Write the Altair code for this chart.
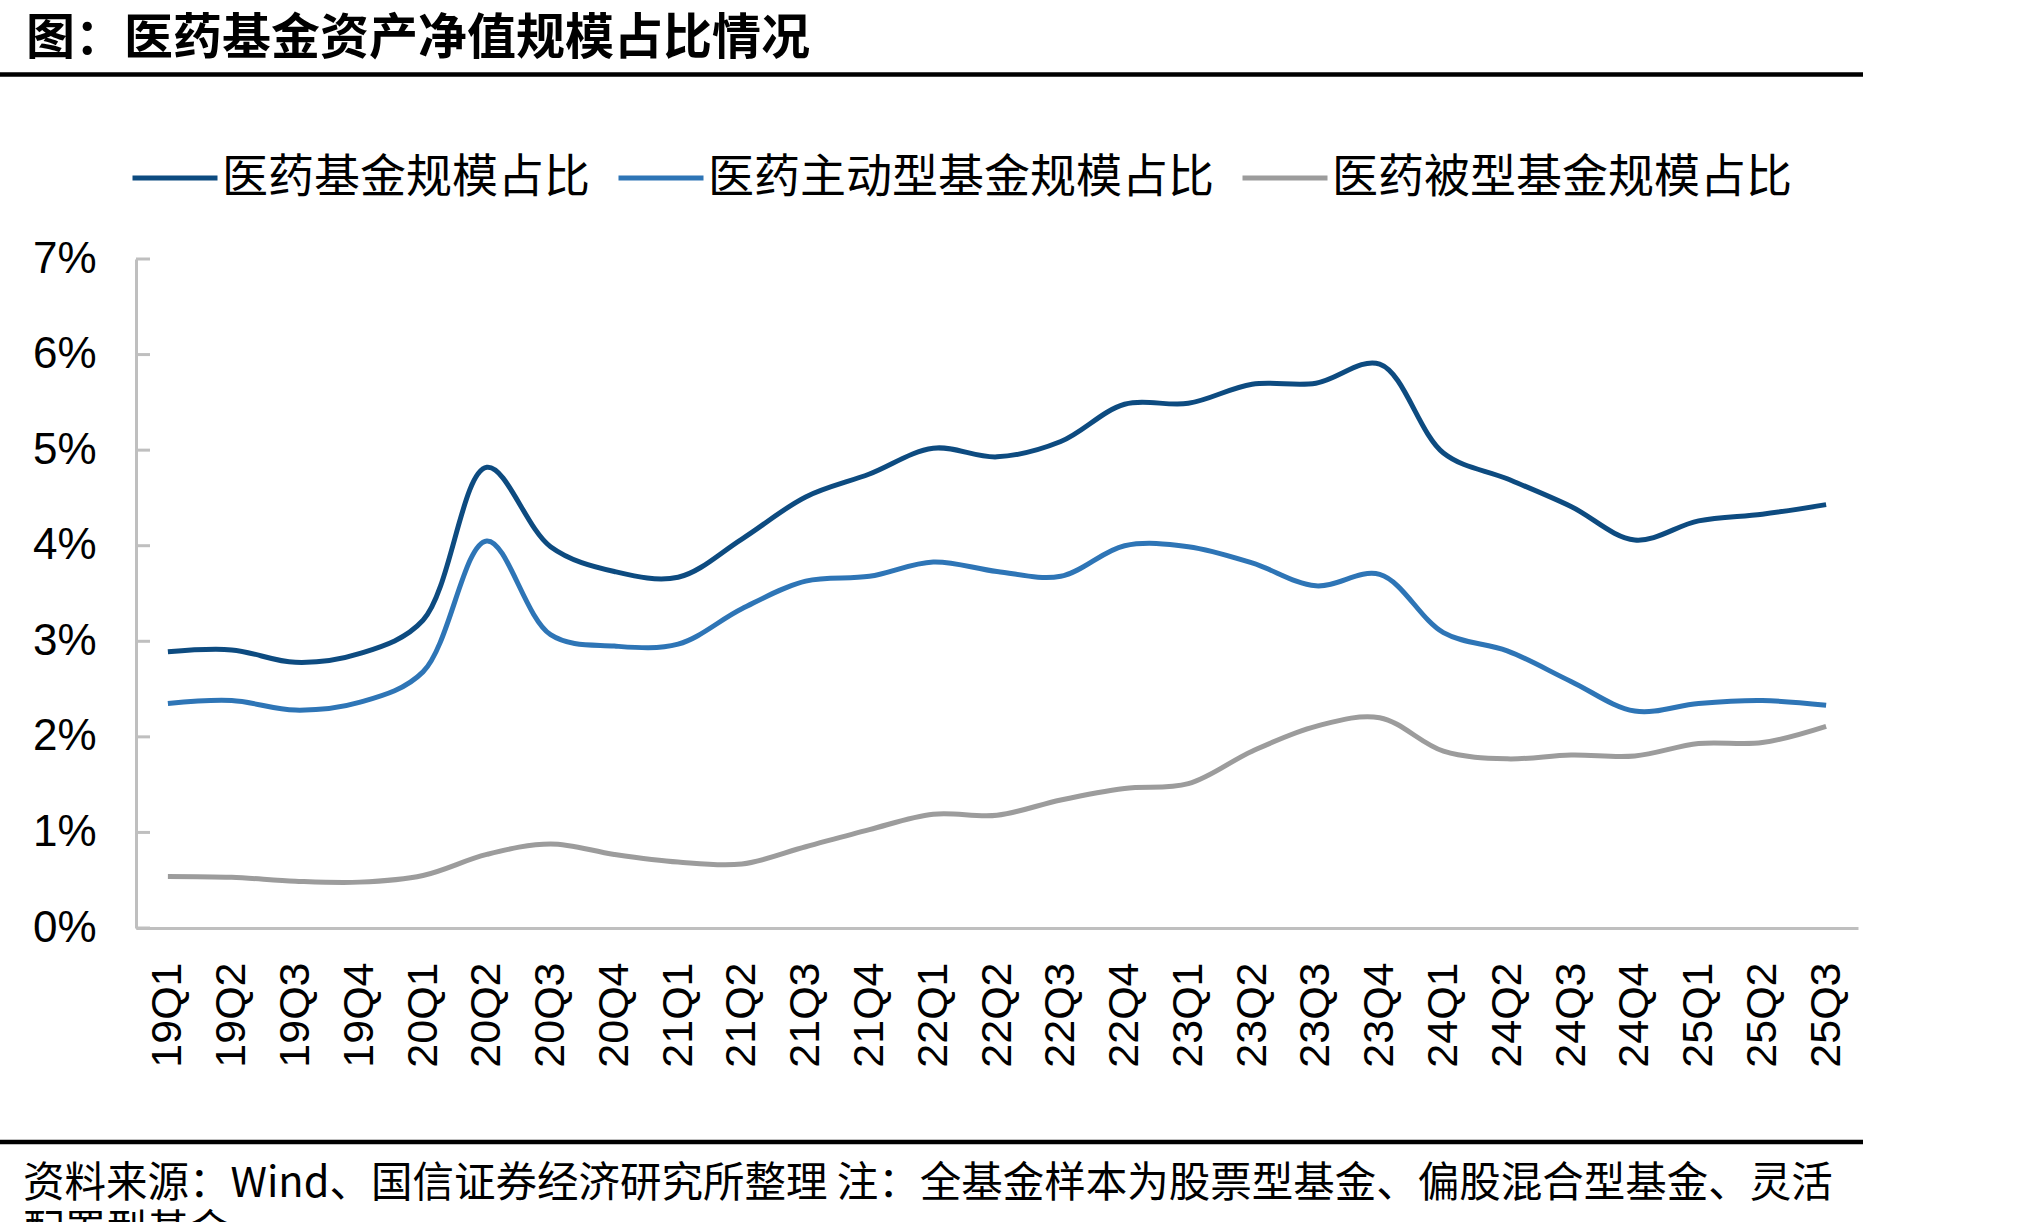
import altair as alt
import pandas as pd

quarters = ["19Q1", "19Q2", "19Q3", "19Q4", "20Q1", "20Q2", "20Q3", "20Q4",
            "21Q1", "21Q2", "21Q3", "21Q4", "22Q1", "22Q2", "22Q3", "22Q4",
            "23Q1", "23Q2", "23Q3", "23Q4", "24Q1", "24Q2", "24Q3", "24Q4",
            "25Q1", "25Q2", "25Q3"]

series_names = ["医药基金规模占比", "医药主动型基金规模占比", "医药被型基金规模占比"]
series_colors = ["#0D4B80", "#2E75B6", "#9C9C9C"]

fund_share = [2.89, 2.91, 2.78, 2.87, 3.22, 4.82, 3.99, 3.73, 3.67, 4.07, 4.51, 4.75,
              5.02, 4.93, 5.09, 5.48, 5.49, 5.69, 5.70, 5.90, 4.97, 4.70, 4.41, 4.06,
              4.26, 4.33, 4.43]
active_share = [2.35, 2.38, 2.28, 2.36, 2.68, 4.05, 3.07, 2.95, 2.97, 3.34, 3.63, 3.68,
                3.83, 3.73, 3.68, 4.00, 3.99, 3.82, 3.58, 3.70, 3.09, 2.90, 2.58, 2.27,
                2.35, 2.38, 2.33]
passive_share = [0.54, 0.53, 0.49, 0.48, 0.55, 0.77, 0.88, 0.77, 0.69, 0.67, 0.85, 1.03,
                 1.19, 1.18, 1.34, 1.46, 1.51, 1.85, 2.11, 2.20, 1.85, 1.77, 1.81, 1.80,
                 1.93, 1.94, 2.11]

y_ticks = [0, 0.01, 0.02, 0.03, 0.04, 0.05, 0.06, 0.07]

title_text = "图：医药基金资产净值规模占比情况"
footer_line1 = "资料来源：Wind、国信证券经济研究所整理 注：全基金样本为股票型基金、偏股混合型基金、灵活"
footer_line2 = "配置型基金"

rows = []
for name, vals in zip(series_names, [fund_share, active_share, passive_share]):
    for q, v in zip(quarters, vals):
        rows.append({"quarter": q, "value": v / 100.0, "series": name})
df = pd.DataFrame(rows)
tick_df = pd.DataFrame({"v": y_ticks})
one = pd.DataFrame({"d": [0]})

# plot area geometry (page pixels)
PL, PT, PW, PH = 136, 259, 1722, 669
W, H = 2033, 1222

x_enc = alt.X("quarter:O", sort=quarters,
              scale=alt.Scale(type="point", padding=0.5),
              axis=alt.Axis(title=None, labelAngle=270, ticks=False, tickSize=0,
                            domainColor="#BFBFBF", domainWidth=3,
                            labelFont="Liberation Sans", labelFontSize=43,
                            labelColor="black", labelPadding=34, grid=False))
y_scale = alt.Scale(domain=[0, 0.07], nice=False)

lines = alt.Chart(df).mark_line(strokeWidth=5, interpolate="catmull-rom").encode(
    x=x_enc,
    y=alt.Y("value:Q", scale=y_scale,
            axis=alt.Axis(title=None, values=y_ticks, format=".0%", ticks=False,
                          tickSize=0, domainColor="#BFBFBF", domainWidth=3,
                          labelFont="Liberation Sans", labelFontSize=44,
                          labelColor="black", labelPadding=40, grid=False)),
    color=alt.Color("series:N", sort=series_names,
                    scale=alt.Scale(domain=series_names, range=series_colors),
                    legend=alt.Legend(orient="none", legendX=-6, legendY=-126,
                                      direction="horizontal", title=None,
                                      symbolType="stroke", symbolSize=7225,
                                      symbolStrokeWidth=5,
                                      labelFont="Noto Sans CJK SC", labelFontSize=46,
                                      labelColor="black", labelOffset=2,
                                      columnPadding=18, labelLimit=1000)),
    order=alt.Order("series:N")
)

yticks = alt.Chart(tick_df).mark_rule(color="#BFBFBF", strokeWidth=3).encode(
    y=alt.Y("v:Q", scale=y_scale),
    x=alt.value(0), x2=alt.value(14)
)

title = alt.Chart(one).mark_text(
    text=title_text, font="Noto Sans CJK SC", fontSize=49, fontWeight="bold",
    align="left", baseline="middle", color="black"
).encode(x=alt.value(26 - PL), y=alt.value(39 - PT))

top_rule = alt.Chart(one).mark_rule(color="black", strokeWidth=4.5).encode(
    x=alt.value(-PL), x2=alt.value(1863 - PL), y=alt.value(74.5 - PT))
bottom_rule = alt.Chart(one).mark_rule(color="black", strokeWidth=4.5).encode(
    x=alt.value(-PL), x2=alt.value(1863 - PL), y=alt.value(1142 - PT))

foot1 = alt.Chart(one).mark_text(
    text=footer_line1, font="Noto Sans CJK SC", fontSize=41.5,
    align="left", baseline="middle", color="black"
).encode(x=alt.value(23 - PL), y=alt.value(1185 - PT))
foot2 = alt.Chart(one).mark_text(
    text=footer_line2, font="Noto Sans CJK SC", fontSize=41.5,
    align="left", baseline="middle", color="black"
).encode(x=alt.value(23 - PL), y=alt.value(1233 - PT))

chart = alt.layer(lines, yticks, title, top_rule, bottom_rule, foot1, foot2).properties(
    width=PW, height=PH,
    padding={"left": PL, "top": PT, "right": W - PL - PW, "bottom": H - PT - PH},
    autosize=alt.AutoSizeParams(type="none"),
    background="white"
).configure_view(stroke=None)

chart.save("out.html", embed_options={"renderer": "svg", "actions": False})
